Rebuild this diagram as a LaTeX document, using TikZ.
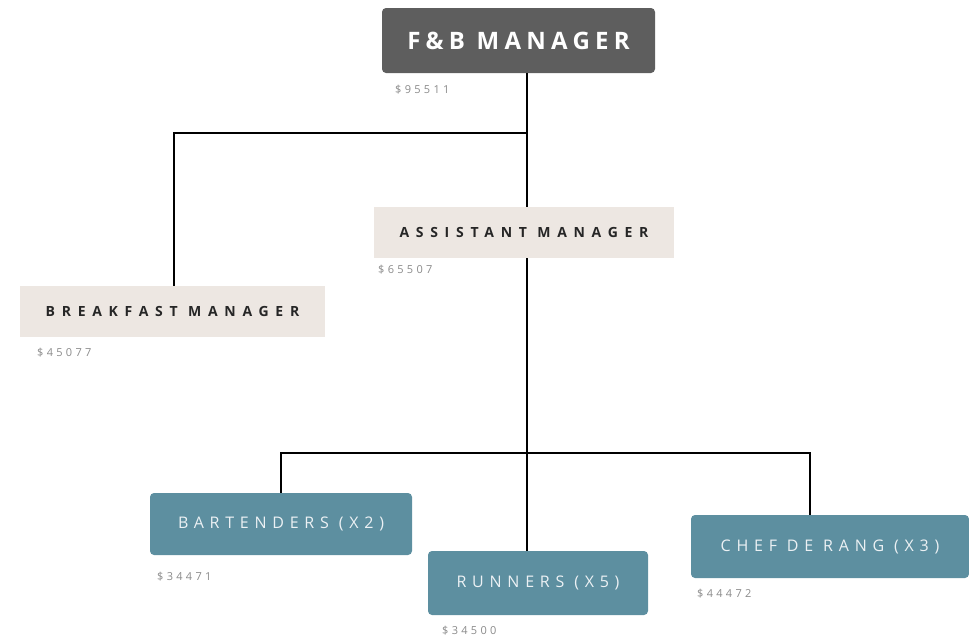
\documentclass[tikz,border=0pt]{standalone}
\usepackage{fontspec}
\setmainfont{Open Sans}
\newfontfamily\titlefont[LetterSpace=22]{Open Sans}
\newfontfamily\midfont[LetterSpace=48]{Open Sans}
\newfontfamily\lowfont[LetterSpace=36]{Open Sans}
\newfontfamily\salfont[LetterSpace=30]{Open Sans}
\definecolor{darkbox}{HTML}{5E5E5E}
\definecolor{beigebox}{HTML}{EDE7E2}
\definecolor{tealbox}{HTML}{5D8FA0}
\definecolor{saltext}{HTML}{8A8A8A}
\begin{document}
\begin{tikzpicture}[x=1pt,y=-1pt,
  boxbase/.style={inner sep=0pt, align=center},
  topbox/.style={boxbase, fill=darkbox, rounded corners=4pt, text=white, font=\titlefont\bfseries\fontsize{24}{28}\selectfont},
  midbox/.style={boxbase, fill=beigebox, text=black!85, font=\midfont\bfseries\fontsize{14}{17}\selectfont},
  lowbox/.style={boxbase, fill=tealbox, rounded corners=4pt, text=white!88!tealbox, font=\lowfont\fontsize{16}{19}\selectfont},
  sal/.style={anchor=west, inner sep=0pt, text=saltext, font=\salfont\fontsize{11}{13}\selectfont},
  link/.style={draw=black, line width=1.8pt}]
\useasboundingbox (0,0) rectangle (969,641);
\node[topbox, minimum width=273pt, minimum height=65pt] (fb) at (518.5,40.5) {F\&B MANAGER};
\node[sal] (fbs) at (395,90) {\$95511};
\node[midbox, minimum width=300pt, minimum height=51pt] (am) at (524,232.5) {ASSISTANT MANAGER};
\node[sal] (ams) at (378,270) {\$65507};
\node[midbox, minimum width=305pt, minimum height=51pt] (bm) at (172.5,311.5) {BREAKFAST MANAGER};
\node[sal] (bms) at (37,353) {\$45077};
\node[lowbox, minimum width=262pt, minimum height=62pt] (bt) at (281,524) {BARTENDERS (X2)};
\node[sal] (bts) at (157,577) {\$34471};
\node[lowbox, minimum width=220pt, minimum height=64pt] (rn) at (538,583) {RUNNERS (X5)};
\node[sal] (rns) at (442,631) {\$34500};
\node[lowbox, minimum width=278pt, minimum height=63pt] (cf) at (830,546.5) {CHEF DE RANG (X3)};
\node[sal] (cfs) at (697,594) {\$44472};
\coordinate (j1) at (527,133);
\coordinate (j1l) at (174,133);
\coordinate (j2) at (527,453);
\coordinate (j2l) at (281,453);
\coordinate (j2r) at (810,453);
\draw[link] (j1 |- fb.south) -- (j1 |- am.north);
\draw[link] (j1) -- (j1l) -- (j1l |- bm.north);
\draw[link] (j2 |- am.south) -- (j2 |- rn.north);
\draw[link] (j2l |- bt.north) -- (j2l) -- (j2r) -- (j2r |- cf.north);
\end{tikzpicture}
\end{document}
